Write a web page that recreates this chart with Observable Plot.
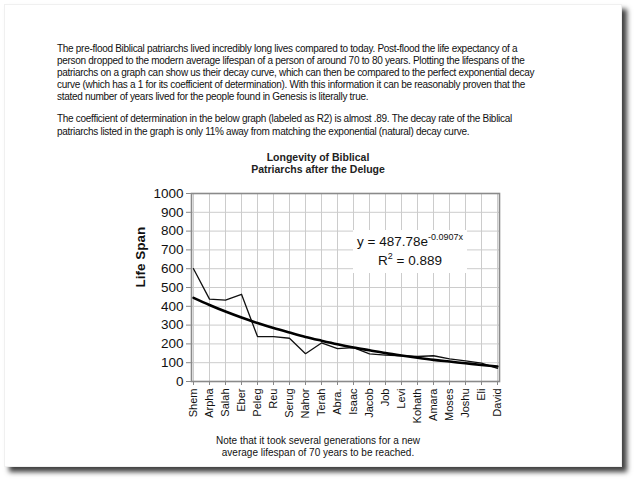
<!DOCTYPE html>
<html>
<head>
<meta charset="utf-8">
<script src="https://cdn.jsdelivr.net/npm/d3@7"></script>
<script src="https://cdn.jsdelivr.net/npm/@observablehq/plot@0.6"></script>
<style>
  html, body { margin: 0; padding: 0; background: #fff; width: 640px; height: 486px; overflow: hidden; }
  body { position: relative; font-family: "Liberation Sans", Arial, sans-serif; color: #111; }
  #card { position: absolute; left: 4px; top: 4px; width: 618px; height: 463px; background: #fff;
          border: 1px solid #f0f0f0; box-shadow: 5px 5px 5px rgba(0,0,0,0.75); box-sizing: border-box; }
  #intro { position: absolute; left: 57px; top: 43px; font-size: 10px; line-height: 12.1px; white-space: nowrap; letter-spacing: -0.29px; color: #111; }
  #intro p { margin: 0 0 10px 0; }
  #title { position: absolute; left: 0; width: 636px; top: 151px; text-align: center; font-weight: bold; font-size: 10.5px; line-height: 12px; color: #222; }
  #chart { position: absolute; left: 0; top: 180px; }
  #eq { position: absolute; left: 353px; top: 230px; width: 114px; height: 43px; background: #fff; text-align: center; font-size: 13.5px; line-height: 19px; color: #111; padding-top: 2px; box-sizing: border-box; }
  #eq sup { font-size: 9px; vertical-align: 6px; line-height: 0; }
  #caption { position: absolute; left: 0; width: 636px; top: 435px; text-align: center; font-size: 10px; line-height: 11.5px; color: #111; }
</style>
</head>
<body>
<div id="card"></div>
<div id="intro">
  <p>The pre-flood Biblical patriarchs lived incredibly long lives compared to today. Post-flood the life expectancy of a<br>person dropped to the modern average lifespan of a person of around 70 to 80 years. Plotting the lifespans of the<br>patriarchs on a graph can show us their decay curve, which can then be compared to the perfect exponential decay<br>curve (which has a 1 for its coefficient of determination). With this information it can be reasonably proven that the<br>stated number of years lived for the people found in Genesis is literally true.</p>
  <p>The coefficient of determination in the below graph (labeled as R2) is almost .89. The decay rate of the Biblical<br>patriarchs listed in the graph is only 11% away from matching the exponential (natural) decay curve.</p>
</div>
<div id="title">Longevity of Biblical<br>Patriarchs after the Deluge</div>
<div id="chart"></div>
<div id="eq">y = 487.78e<sup>-0.0907x</sup><br>R<sup>2</sup> = 0.889</div>
<div id="caption">Note that it took several generations for a new<br>average lifespan of 70 years to be reached.</div>
<script>
const names = ["Shem","Arpha","Salah","Eber","Peleg","Reu","Serug","Nahor","Terah","Abra.","Isaac","Jacob","Job","Levi","Kohath","Amara","Moses","Joshu","Eli","David"];
const lifespans = [600,438,433,464,239,239,230,148,205,175,180,147,140,137,133,137,120,110,98,70];
const trend = [445,407,372,340,311,284,260,237,217,198,181,166,151,138,126,115,106,97,88,80];
const yTicks = [0,100,200,300,400,500,600,700,800,900,1000];

const data = names.map((n, i) => ({name: n, life: lifespans[i], trend: trend[i]}));

const plot = Plot.plot({
  width: 640,
  height: 258,
  marginLeft: 191,
  marginRight: 141,
  marginTop: 13,
  marginBottom: 57,
  style: { fontFamily: "'Liberation Sans', Arial, sans-serif", color: "#111", background: "transparent" },
  x: { type: "point", domain: names, padding: 0 },
  y: { domain: [0, 1000] },
  marks: [
    Plot.gridX(names, { stroke: "#cccccc", strokeOpacity: 1, strokeWidth: 1 }),
    Plot.gridY(yTicks, { stroke: "#cccccc", strokeOpacity: 1, strokeWidth: 1 }),
    Plot.axisY(yTicks, { tickSize: 5, tickPadding: 3, fontSize: 13.5, label: null, stroke: "#888", tickFormat: d => String(d) }),
    Plot.axisX({ tickRotate: -90, tickSize: 4, tickPadding: 3, fontSize: 11, label: null, stroke: "#888" }),
    Plot.text(["Life Span"], { frameAnchor: "left", rotate: -90, dx: -51, fontWeight: "bold", fontSize: 13.5 }),
    Plot.line(data, { x: "name", y: "life", stroke: "#111", strokeWidth: 1.3 }),
    Plot.line(data, { x: "name", y: "trend", stroke: "#000", strokeWidth: 2.6, curve: "monotone-x" }),
    Plot.frame({ stroke: "#8a8a8a", strokeWidth: 1.6 })
  ]
});
document.getElementById("chart").appendChild(plot);
</script>
</body>
</html>
